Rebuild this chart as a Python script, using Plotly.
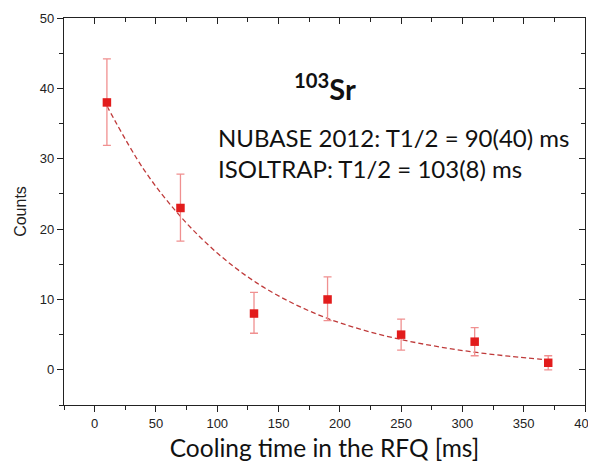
import plotly.graph_objects as go

# measured data
cooling_time = [10, 70, 130, 190, 250, 310, 370]
counts = [38, 23, 8, 10, 5, 4, 1]
err_plus = [6.2, 4.8, 3.0, 3.2, 2.2, 2.0, 1.0]
err_minus = [6.1, 4.7, 2.8, 3.0, 2.2, 2.0, 1.0]

# fit curve
fit_time = [10, 40, 70, 100, 130, 160, 190, 220, 250, 280, 310, 340, 370]
fit_counts = [37.5, 28.5, 21.8, 16.6, 12.6, 9.6, 7.3, 5.6, 4.3, 3.3, 2.5, 1.9, 1.4]

x_ticks = [0, 50, 100, 150, 200, 250, 300, 350, 400]
y_ticks = [0, 10, 20, 30, 40, 50]

fig = go.Figure()
fig.add_trace(go.Scatter(
    x=fit_time, y=fit_counts, mode="lines", line_shape="spline",
    line=dict(color="#bf3a3a", width=1.3, dash="5px,3px"), showlegend=False))
fig.add_trace(go.Scatter(
    x=cooling_time, y=counts, mode="markers",
    marker=dict(symbol="square", size=8.5, color="#e21c1c"),
    error_y=dict(type="data", array=err_plus, arrayminus=err_minus,
                 color="#f09090", thickness=1.3, width=4),
    showlegend=False))

axis_font = dict(family="Liberation Sans, Arial", size=13, color="#222")
# page body has an 8px margin, so the figure is sized/placed to compensate
fig.update_layout(
    width=588, height=456,
    margin=dict(l=56, r=11, t=10, b=59),
    paper_bgcolor="white", plot_bgcolor="white",
    xaxis=dict(range=[-25, 400], tickvals=x_ticks, ticks="outside", ticklen=6,
               tickwidth=1.3, tickcolor="#222", showline=True, linecolor="#222",
               linewidth=1.3, showgrid=False, zeroline=False, tickfont=axis_font,
               automargin=False,
               minor=dict(dtick=25, tick0=0, ticks="outside", ticklen=4, tickcolor="#222"),
               title=dict(text="Cooling time in the RFQ [ms]", standoff=10,
                          font=dict(family="Lato, Open Sans", size=24.5, color="#111"))),
    yaxis=dict(range=[-5, 50], tickvals=y_ticks, ticks="outside", ticklen=6,
               tickwidth=1.3, tickcolor="#222", showline=True, linecolor="#222",
               linewidth=1.3, showgrid=False, zeroline=False, tickfont=axis_font,
               automargin=False,
               minor=dict(dtick=5, tick0=0, ticks="outside", ticklen=4, tickcolor="#222"),
               title=dict(text="Counts", standoff=9,
                          font=dict(family="Liberation Sans, Arial", size=16, color="#222"))),
    xaxis2=dict(range=[-25, 400], overlaying="x", side="top", tickvals=x_ticks,
                ticks="inside", ticklen=6, tickcolor="#222", showticklabels=False,
                showline=True, linecolor="#222", linewidth=1.3, showgrid=False,
                zeroline=False, automargin=False,
                minor=dict(dtick=25, tick0=0, ticks="inside", ticklen=4, tickcolor="#222")),
    yaxis2=dict(range=[-5, 50], overlaying="y", side="right", tickvals=y_ticks,
                ticks="inside", ticklen=6, tickcolor="#222", showticklabels=False,
                showline=True, linecolor="#222", linewidth=1.3, showgrid=False,
                zeroline=False, automargin=False,
                minor=dict(dtick=5, tick0=0, ticks="inside", ticklen=4, tickcolor="#222")),
)
# invisible trace to activate the mirror axes
fig.add_trace(go.Scatter(x=[None], y=[None], xaxis="x2", yaxis="y2",
                         showlegend=False, hoverinfo="skip"))

txt_font = dict(family="Lato, Open Sans", size=24, color="#111")
fig.add_annotation(xref="paper", yref="paper", x=0.5, y=0.822,
                   xanchor="center", yanchor="middle", showarrow=False,
                   text="<b><sup>103</sup>Sr</b>",
                   font=dict(family="Lato, Open Sans", size=29, color="#111"))
fig.add_annotation(xref="paper", yref="paper", x=0.292, y=0.6925,
                   xanchor="left", yanchor="middle", showarrow=False,
                   text="NUBASE 2012: T1/2 = 90(40) ms", font=txt_font)
fig.add_annotation(xref="paper", yref="paper", x=0.292, y=0.612,
                   xanchor="left", yanchor="middle", showarrow=False,
                   text="ISOLTRAP: T1/2 = 103(8) ms", font=txt_font)

fig.write_html("out.html")
